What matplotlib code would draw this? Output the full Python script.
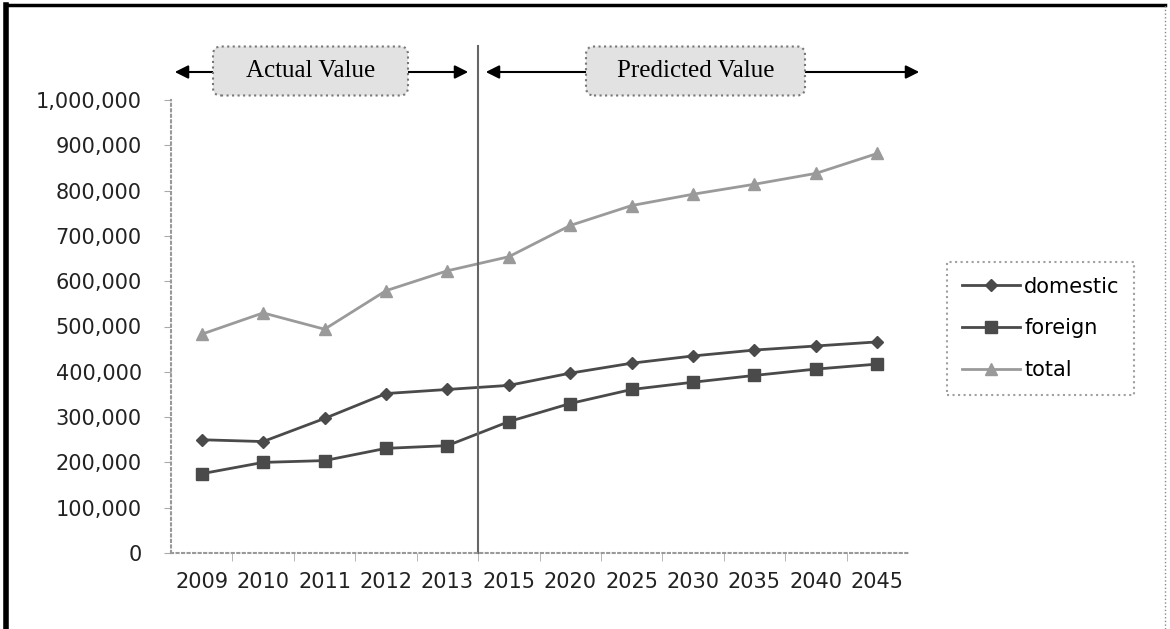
import matplotlib
matplotlib.use("Agg")
import matplotlib.pyplot as plt
from matplotlib.patches import FancyBboxPatch
from matplotlib.ticker import FuncFormatter, FixedLocator

# datos
anios = ['2009', '2010', '2011', '2012', '2013', '2015', '2020',
         '2025', '2030', '2035', '2040', '2045']
domestic = [250000, 246000, 297000, 352000, 361000, 370000, 397000,
            419000, 435000, 448000, 457000, 466000]
foreign = [175000, 200000, 204000, 231000, 237000, 290000, 330000,
           361000, 377000, 392000, 406000, 417000]
total = [483000, 530000, 494000, 579000, 623000, 654000, 723000,
         767000, 792000, 814000, 838000, 882000]
y_ticks = [0, 100000, 200000, 300000, 400000, 500000, 600000,
           700000, 800000, 900000, 1000000]

fig = plt.figure(figsize=(11.7, 6.29), dpi=100)
fig.patch.set_facecolor('white')
ax = fig.add_axes([171 / 1170, 1 - 553 / 629, 737 / 1170, 453 / 629])

x = list(range(len(anios)))
ax.plot(x, domestic, color='#4a4a4a', lw=2, marker='D', ms=6, label='domestic')
ax.plot(x, foreign, color='#4a4a4a', lw=2, marker='s', ms=9, label='foreign')
ax.plot(x, total, color='#9a9a9a', lw=2, marker='^', ms=8, label='total')

ax.set_xlim(-0.5, len(anios) - 0.5)
ax.set_ylim(0, 1000000)
ax.set_xticks(x)
ax.set_xticklabels(anios)
ax.xaxis.set_minor_locator(FixedLocator([i + 0.5 for i in range(len(anios) - 1)]))
ax.set_yticks(y_ticks)
ax.yaxis.set_major_formatter(FuncFormatter(lambda v, p: '{:,.0f}'.format(v)))
ax.tick_params(axis='x', which='major', length=0, labelsize=15, pad=14, labelcolor='#222222')
ax.tick_params(axis='x', which='minor', length=6, color='#aaaaaa')
ax.tick_params(axis='y', length=5, color='#aaaaaa', labelsize=15, pad=16, labelcolor='#222222')

for lado in ['top', 'right']:
    ax.spines[lado].set_visible(False)
for lado in ['left', 'bottom']:
    ax.spines[lado].set_color('#999999')
    ax.spines[lado].set_linestyle(':')
    ax.spines[lado].set_linewidth(1.5)

# linea que separa valores reales de predichos
ax.axvline(4.5, ymin=0, ymax=1.12, color='#666666', lw=1.5, clip_on=False)

# flechas y cajas de texto (coordenadas en pulgadas)
ax.annotate('', xy=(1.72, 5.57), xytext=(4.71, 5.57), xycoords=fig.dpi_scale_trans,
            textcoords=fig.dpi_scale_trans,
            arrowprops=dict(arrowstyle='<|-|>', color='black', lw=1.5, mutation_scale=20))
ax.annotate('', xy=(4.83, 5.57), xytext=(9.22, 5.57), xycoords=fig.dpi_scale_trans,
            textcoords=fig.dpi_scale_trans,
            arrowprops=dict(arrowstyle='<|-|>', color='black', lw=1.5, mutation_scale=20))

cajas = [(2.13, 1.95, 'Actual Value'), (5.86, 2.19, 'Predicted Value')]
for x0, ancho, texto in cajas:
    caja = FancyBboxPatch((x0, 5.335), ancho, 0.49, boxstyle='round,pad=0,rounding_size=0.08',
                          transform=fig.dpi_scale_trans, fc='#e2e2e2', ec='#777777',
                          ls=':', lw=1.5, zorder=5)
    fig.add_artist(caja)
    fig.text((x0 + ancho / 2) * 100 / 1170, 5.58 * 100 / 629, texto, ha='center', va='center',
             family='Liberation Serif', fontsize=18, zorder=6)

leg = ax.legend(loc='upper left', bbox_to_anchor=(947 / 1170, 1 - 262 / 629),
                bbox_transform=fig.transFigure, fontsize=15, frameon=True, fancybox=False,
                handlelength=2.8, handletextpad=0.2, borderpad=0.7, labelspacing=1.05,
                borderaxespad=0)
leg.get_frame().set_edgecolor('#888888')
leg.get_frame().set_linestyle(':')
leg.get_frame().set_linewidth(1.5)

# marco exterior
fig.add_artist(plt.Line2D([0.005, 0.005], [0, 0.992], transform=fig.transFigure, color='black', lw=4))
fig.add_artist(plt.Line2D([0.005, 0.996], [0.992, 0.992], transform=fig.transFigure, color='black', lw=2.5))
fig.add_artist(plt.Line2D([0.996, 0.996], [0.0, 0.992], transform=fig.transFigure, color='#888888', lw=1, ls=':'))

fig.savefig('out.png', dpi=100)
